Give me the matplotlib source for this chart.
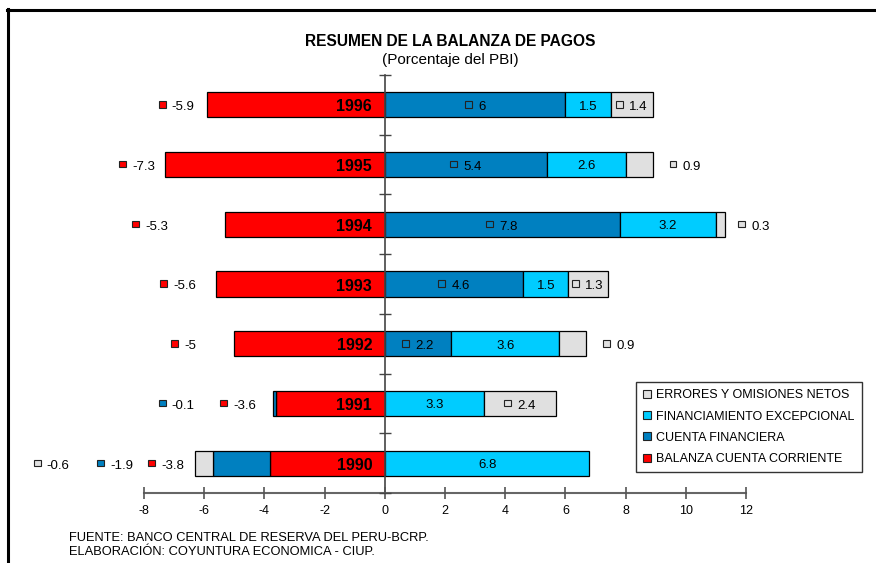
import matplotlib
matplotlib.use("Agg")
import matplotlib.pyplot as plt
from matplotlib.lines import Line2D
from matplotlib.patches import Rectangle
from matplotlib.offsetbox import DrawingArea, TextArea, HPacker, AnnotationBbox
import numpy as np

plt.rcParams['font.family'] = ['Liberation Sans', 'DejaVu Sans']

# ---------------- data ----------------
years = ["1990", "1991", "1992", "1993", "1994", "1995", "1996"]
cuenta_corriente = [-3.8, -3.6, -5.0, -5.6, -5.3, -7.3, -5.9]
cuenta_financiera = [-1.9, -0.1, 2.2, 4.6, 7.8, 5.4, 6.0]
financiamiento = [6.8, 3.3, 3.6, 1.5, 3.2, 2.6, 1.5]
errores = [-0.6, 2.4, 0.9, 1.3, 0.3, 0.9, 1.4]

series_names = ["BALANZA CUENTA CORRIENTE", "CUENTA FINANCIERA",
                "FINANCIAMIENTO EXCEPCIONAL", "ERRORES Y OMISIONES NETOS"]
x_ticks = [-8, -6, -4, -2, 0, 2, 4, 6, 8, 10, 12]

# ---------------- style ----------------
colors = ["#FF0000", "#0080C0", "#00CCFF", "#E0E0E0"]
series = [cuenta_corriente, cuenta_financiera, financiamiento, errores]

# outside labels: x (data) of marker; others centred in their segment
label_place = {
    (0, 0): -7.84, (0, 1): -5.43, (0, 2): -7.08, (0, 3): -7.43, (0, 4): -8.37, (0, 5): -8.80, (0, 6): -7.48,
    (1, 0): -9.53, (1, 1): -7.48,
    (3, 0): -11.63, (3, 2): 7.28, (3, 4): 11.76, (3, 5): 9.49,
}
show_marker = [True, True, False, True]
LBL_FS = 9.5

W, H = 876, 563
fig = plt.figure(figsize=(W / 100, H / 100), dpi=100)
ax = fig.add_axes([144 / W, 1 - 493 / H, (746 - 144) / W, (493 - 75) / H])

ypos = np.arange(len(years))
bar_h = 0.42
pos_base = np.zeros(len(years))
neg_base = np.zeros(len(years))
segments = {}
for si, vals in enumerate(series):
    vals = np.array(vals, dtype=float)
    left = np.where(vals >= 0, pos_base, neg_base)
    ax.barh(ypos, vals, left=left, height=bar_h, color=colors[si],
            edgecolor="black", linewidth=0.9, zorder=2)
    for i, v in enumerate(vals):
        segments[(si, i)] = (left[i], left[i] + v)
    pos_base = pos_base + np.where(vals >= 0, vals, 0)
    neg_base = neg_base + np.where(vals < 0, vals, 0)


def make_box(si, v, with_marker):
    txt = TextArea(f"{v:g}", textprops=dict(fontsize=LBL_FS, color="black"))
    if not with_marker:
        return txt
    da = DrawingArea(5.5, 7.5, 0, 0)
    da.add_artist(Rectangle((0, 1.9), 5.0, 4.6, facecolor=colors[si],
                            edgecolor="#222222", linewidth=0.8))
    return HPacker(children=[da, txt], align="baseline", pad=0, sep=4)


for si, vals in enumerate(series):
    for i, v in enumerate(vals):
        y = ypos[i]
        if (si, i) in label_place:
            x = label_place[(si, i)]
            box = make_box(si, v, True)
            ab = AnnotationBbox(box, (x, y - 0.03), xycoords="data", box_alignment=(0.03, 0.5),
                                frameon=False, annotation_clip=False, zorder=5)
            ax.add_artist(ab)
        else:
            if si == 0:
                continue
            a, b = segments[(si, i)]
            box = make_box(si, v, show_marker[si])
            ab = AnnotationBbox(box, ((a + b) / 2, y - 0.03), xycoords="data",
                                box_alignment=(0.5, 0.5), frameon=False,
                                annotation_clip=False, zorder=5)
            ax.add_artist(ab)

# year labels inside red bars
for i, yr in enumerate(years):
    ax.text(-0.42, ypos[i] - 0.035, yr, ha="right", va="center", fontsize=11.5,
            fontweight="bold", color="black", zorder=6)

# axes
ax.set_xlim(-8, 12)
ax.set_ylim(-0.5, len(years) - 0.5)
ax.set_xticks(x_ticks)
ax.set_xticklabels([str(t) for t in x_ticks], fontsize=9)
ax.set_yticks(np.arange(len(years) + 1) - 0.5)
ax.set_yticklabels([])
for s in ["top", "right"]:
    ax.spines[s].set_visible(False)
ax.spines["left"].set_position(("data", 0))
ax.spines["left"].set_color("#444444")
ax.spines["bottom"].set_color("#666666")
ax.spines["left"].set_linewidth(1.2)
ax.spines["bottom"].set_linewidth(1.5)
ax.tick_params(axis="x", direction="inout", length=8, width=1.2, color="#555555", pad=5)
ax.tick_params(axis="y", direction="inout", length=9, width=1.0, color="#444444")
ax.set_axisbelow(False)

# title
fig.text(450 / W, 1 - 42 / H, "RESUMEN DE LA BALANZA DE PAGOS", ha="center", va="center",
         fontsize=11.2, fontweight="bold")
fig.text(450 / W, 1 - 60 / H, "(Porcentaje del PBI)", ha="center", va="center", fontsize=11)

# legend
handles = [Line2D([], [], marker="s", linestyle="none", markersize=6,
                  markerfacecolor=colors[k], markeredgecolor="#222222", markeredgewidth=0.8)
           for k in [3, 2, 1, 0]]
labels = [series_names[k] for k in [3, 2, 1, 0]]
leg = fig.legend(handles, labels, loc="upper left",
                 bbox_to_anchor=(636 / W, 1 - 382 / H), fontsize=9,
                 frameon=True, fancybox=False, edgecolor="black",
                 handlelength=0.6, handletextpad=0.4, labelspacing=0.73,
                 borderpad=0.6, borderaxespad=0)
leg.get_frame().set_linewidth(1.0)

# footer
fig.text(69 / W, 1 - 538 / H, "FUENTE: BANCO CENTRAL DE RESERVA DEL PERU-BCRP.",
         ha="left", va="center", fontsize=9.3)
fig.text(69 / W, 1 - 552 / H, "ELABORACIÓN: COYUNTURA ECONOMICA - CIUP.",
         ha="left", va="center", fontsize=9.3)

# outer frame (partial)
fig.add_artist(Line2D([8 / W, 8 / W], [0, 1 - 9 / H], color="black", linewidth=2.2,
                      transform=fig.transFigure))
fig.add_artist(Line2D([7 / W, 874 / W], [1 - 10 / H, 1 - 10 / H], color="black", linewidth=2.2,
                      transform=fig.transFigure))

fig.savefig("out.png", dpi=100)
